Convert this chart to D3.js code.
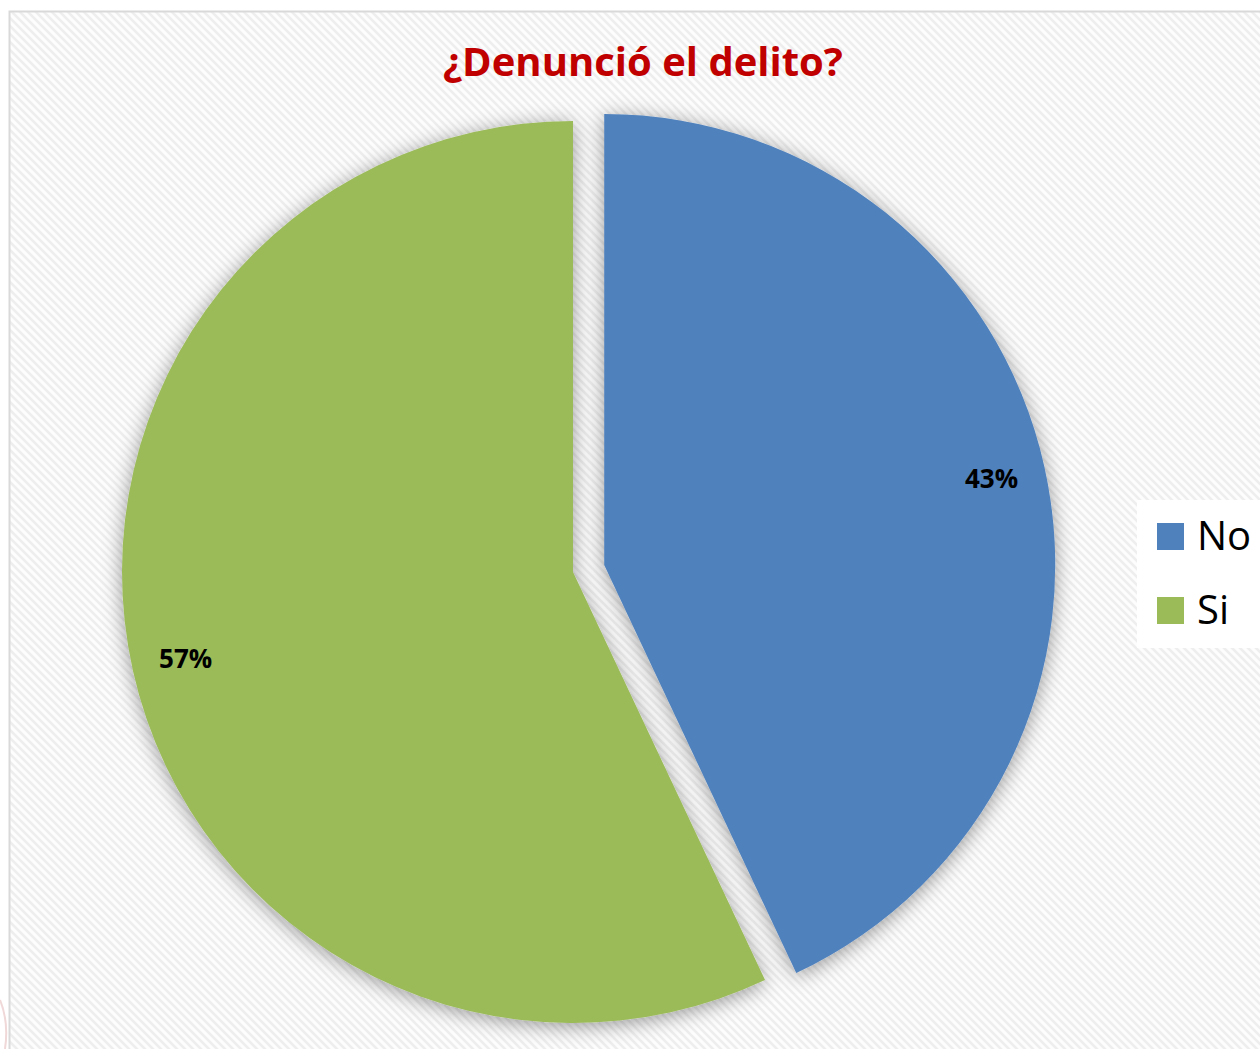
<!DOCTYPE html>
<html>
<head>
<meta charset="utf-8">
<script src="https://cdn.jsdelivr.net/npm/d3@7"></script>
<style>
  body { margin: 0; background: #fff; }
  svg { display: block; }
</style>
</head>
<body>
<div id="chart"></div>
<script>
var categories = ["No", "Si"];
var values = [43, 57];
var labels = ["43%", "57%"];
var colors = ["#4F81BD", "#9BBB59"];
var title = "¿Denunció el delito?";

var w = 1260;
var h = 1049;
var cx = 573, cy = 572, r = 451;
var explode = 32;

var svg = d3.select("#chart")
  .append("svg")
  .attr("width", w)
  .attr("height", h);

var defs = svg.append("defs");

// diagonal hatch background (top-left to bottom-right)
var pat = defs.append("pattern")
  .attr("id", "hatch")
  .attr("patternUnits", "userSpaceOnUse")
  .attr("width", 8)
  .attr("height", 8);
pat.append("rect").attr("width", 8).attr("height", 8).attr("fill", "#fdfdfd");
pat.append("path")
  .attr("d", "M-2,6 L2,10 M0,0 L8,8 M6,-2 L10,2")
  .attr("stroke", "#eeeeee")
  .attr("stroke-width", 2.5);

var shadow = defs.append("filter")
  .attr("id", "shadow")
  .attr("x", "-20%").attr("y", "-20%")
  .attr("width", "140%").attr("height", "140%");
shadow.append("feDropShadow")
  .attr("dx", 0).attr("dy", 3)
  .attr("stdDeviation", 10)
  .attr("flood-color", "#000")
  .attr("flood-opacity", 0.4);

// faint red curve outside the frame (bottom left)
svg.append("path")
  .attr("d", "M0,1000 Q9,1022 5,1049")
  .attr("fill", "none")
  .attr("stroke", "#f0d8d8")
  .attr("stroke-width", 2);

// chart area
svg.append("rect")
  .attr("x", 9.5).attr("y", 11.5)
  .attr("width", 1260).attr("height", 1050)
  .attr("fill", "url(#hatch)")
  .attr("stroke", "#d9d9d9")
  .attr("stroke-width", 2);

svg.append("text")
  .attr("x", 643)
  .attr("y", 76)
  .attr("text-anchor", "middle")
  .style("font-family", "'Open Sans', sans-serif")
  .style("font-weight", "bold")
  .style("font-size", "40px")
  .style("fill", "#C00000")
  .text(title);

var pie = d3.pie().sort(null)(values);
var arc = d3.arc().innerRadius(0).outerRadius(r);
var labelArc = d3.arc().innerRadius(r * 0.88).outerRadius(r * 0.88);

var g = svg.append("g")
  .attr("transform", "translate(" + cx + "," + cy + ")");

var slices = g.selectAll("g.slice")
  .data(pie)
  .enter()
  .append("g")
  .attr("class", "slice")
  .attr("transform", function(d, i) {
    if (i != 0) return null;
    var a = (d.startAngle + d.endAngle) / 2;
    return "translate(" + (Math.sin(a) * explode) + "," + (-Math.cos(a) * explode) + ")";
  });

slices.append("path")
  .attr("d", arc)
  .attr("fill", function(d, i) { return colors[i]; })
  .attr("filter", "url(#shadow)");

slices.append("text")
  .attr("transform", function(d) { return "translate(" + labelArc.centroid(d) + ")"; })
  .attr("text-anchor", "middle")
  .attr("dy", "0.35em")
  .style("font-family", "'Open Sans', sans-serif")
  .style("font-weight", "bold")
  .style("font-size", "26px")
  .style("fill", "#000")
  .text(function(d, i) { return labels[i]; });

// legend
var legend = svg.append("g").attr("transform", "translate(1137,500)");
legend.append("rect")
  .attr("width", 130).attr("height", 148)
  .attr("fill", "#fff");

var items = legend.selectAll("g.item")
  .data(categories)
  .enter()
  .append("g")
  .attr("class", "item")
  .attr("transform", function(d, i) { return "translate(20," + (23 + i * 74) + ")"; });

items.append("rect")
  .attr("width", 27).attr("height", 27)
  .attr("fill", function(d, i) { return colors[i]; });

items.append("text")
  .attr("x", 40)
  .attr("y", 27)
  .style("font-family", "'Open Sans', sans-serif")
  .style("font-size", "40px")
  .style("fill", "#000")
  .text(function(d) { return d; });
</script>
</body>
</html>
